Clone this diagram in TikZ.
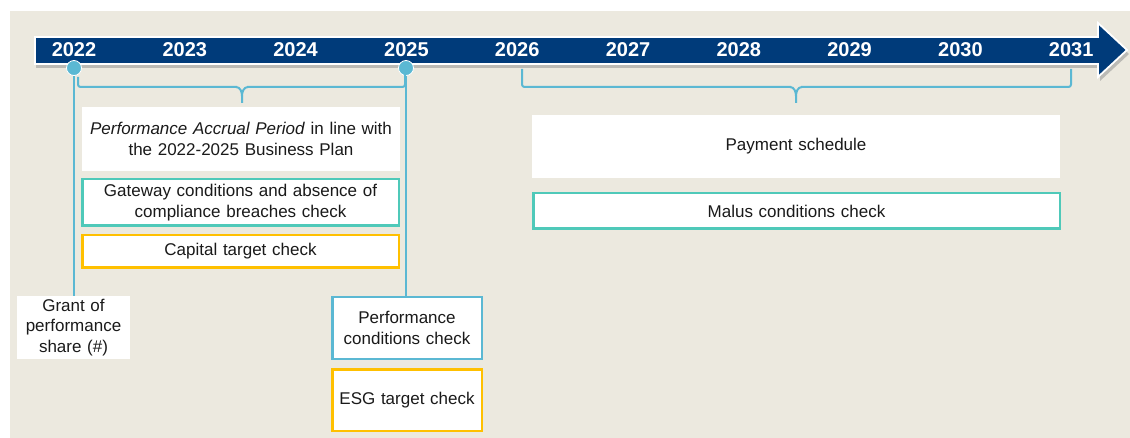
\documentclass[tikz,border=0pt]{standalone}
\usepackage{fontspec}
\setmainfont{Liberation Sans}
\definecolor{bgbeige}{HTML}{ECE9DF}
\definecolor{bandblue}{HTML}{003B7A}
\definecolor{dotblue}{HTML}{5BB8D3}
\definecolor{tealc}{HTML}{4FC9B9}
\definecolor{yellowc}{HTML}{FFC000}
\definecolor{txt}{HTML}{1A1A1A}
\tikzset{
  year/.style={text=white, font=\fontsize{20}{22}\selectfont\bfseries, anchor=base, inner sep=0pt},
  box/.style={rectangle, inner sep=0pt, outer sep=0pt, align=center, text=txt,
    font=\fontsize{17}{20.5}\selectfont},
  plainbox/.style={box, fill=white},
  tealbox/.style={box, fill=white, draw=tealc, line width=2.5pt},
  yellowbox/.style={box, fill=white, draw=yellowc, line width=2.5pt},
  bluebox/.style={box, fill=white, draw=dotblue, line width=2.5pt},
  dotmark/.style={circle, fill=dotblue, draw=white, line width=0.8pt, minimum size=15pt, inner sep=0pt},
  vline/.style={draw=dotblue, line width=2.5pt},
  bracec/.style={draw=dotblue, line width=2pt, line join=round}
}
\begin{document}
\begin{tikzpicture}[x=1pt,y=-1pt]
\useasboundingbox (0,0) rectangle (1130,438);
\fill[bgbeige] (10,11) rectangle (1130,438);
% shadow of band
\fill[black!45, opacity=0.5] (36,41) -- (1100,41) -- (1100,27) -- (1129,54) -- (1100,81) -- (1100,68) -- (36,68) -- cycle;
% band arrow
\draw[fill=bandblue, draw=white, line width=1.8pt, line join=miter]
  (35,37) -- (1098,37) -- (1098,23) -- (1127,50) -- (1098,77) -- (1098,64) -- (35,64) -- cycle;
% years
\foreach \yr [count=\i from 0] in {2022,2023,2024,2025,2026,2027,2028,2029,2030,2031}{
  \node[year] (y\yr) at ({74+110.8*\i},57) {\yr};
}
% boxes
\node[plainbox, minimum width=318pt, minimum height=64pt, text width=315pt] (accrual) at (241,139)
  {\textit{Performance Accrual Period} in line with\\ the 2022-2025 Business Plan};
\node[tealbox, minimum width=316.5pt, minimum height=46.5pt, text width=310pt] (gateway) at (240.5,202.5)
  {Gateway conditions and absence of\\ compliance breaches check};
\node[yellowbox, minimum width=316.5pt, minimum height=32.5pt, text width=300pt] (capital) at (240.5,251.5)
  {Capital target check};
\node[plainbox, minimum width=113pt, minimum height=63pt, text width=112pt] (grant) at (73.5,327.5)
  {Grant of\\ performance\\ share (\#)};
\node[bluebox, minimum width=149.5pt, minimum height=61.5pt, text width=147pt] (perf) at (407,328)
  {Performance\\ conditions check};
\node[yellowbox, minimum width=149.5pt, minimum height=61.5pt, text width=147pt] (esg) at (407,400)
  {ESG target check};
\node[plainbox, minimum width=528pt, minimum height=63pt, text width=500pt] (payment) at (796,146.5)
  {Payment schedule};
\node[tealbox, minimum width=526.5pt, minimum height=35.5pt, text width=500pt] (malus) at (796.5,211)
  {Malus conditions check};
% vertical lines from dots
\coordinate (d1) at (74,68);
\coordinate (d2) at (406,68);
\draw[vline] (d1) -- (d1 |- grant.north);
\draw[vline] (d2) -- (d2 |- perf.north);
% dots
\node[dotmark] (dot1) at (d1) {};
\node[dotmark] (dot2) at (d2) {};
% braces
\draw[bracec, rounded corners=2.5pt] (78,77) |- (237,87);
\draw[bracec] (236,87) to[out=0,in=90] (242,96) -- (242,103);
\draw[bracec, rounded corners=2.5pt] (405,72) |- (247,87);
\draw[bracec] (248,87) to[out=180,in=90] (242,96);
\draw[bracec, rounded corners=2.5pt] (522,69) |- (791,87);
\draw[bracec] (790,87) to[out=0,in=90] (796,96) -- (796,103);
\draw[bracec, rounded corners=2.5pt] (1071,69) |- (801,87);
\draw[bracec] (802,87) to[out=180,in=90] (796,96);
\end{tikzpicture}
\end{document}
